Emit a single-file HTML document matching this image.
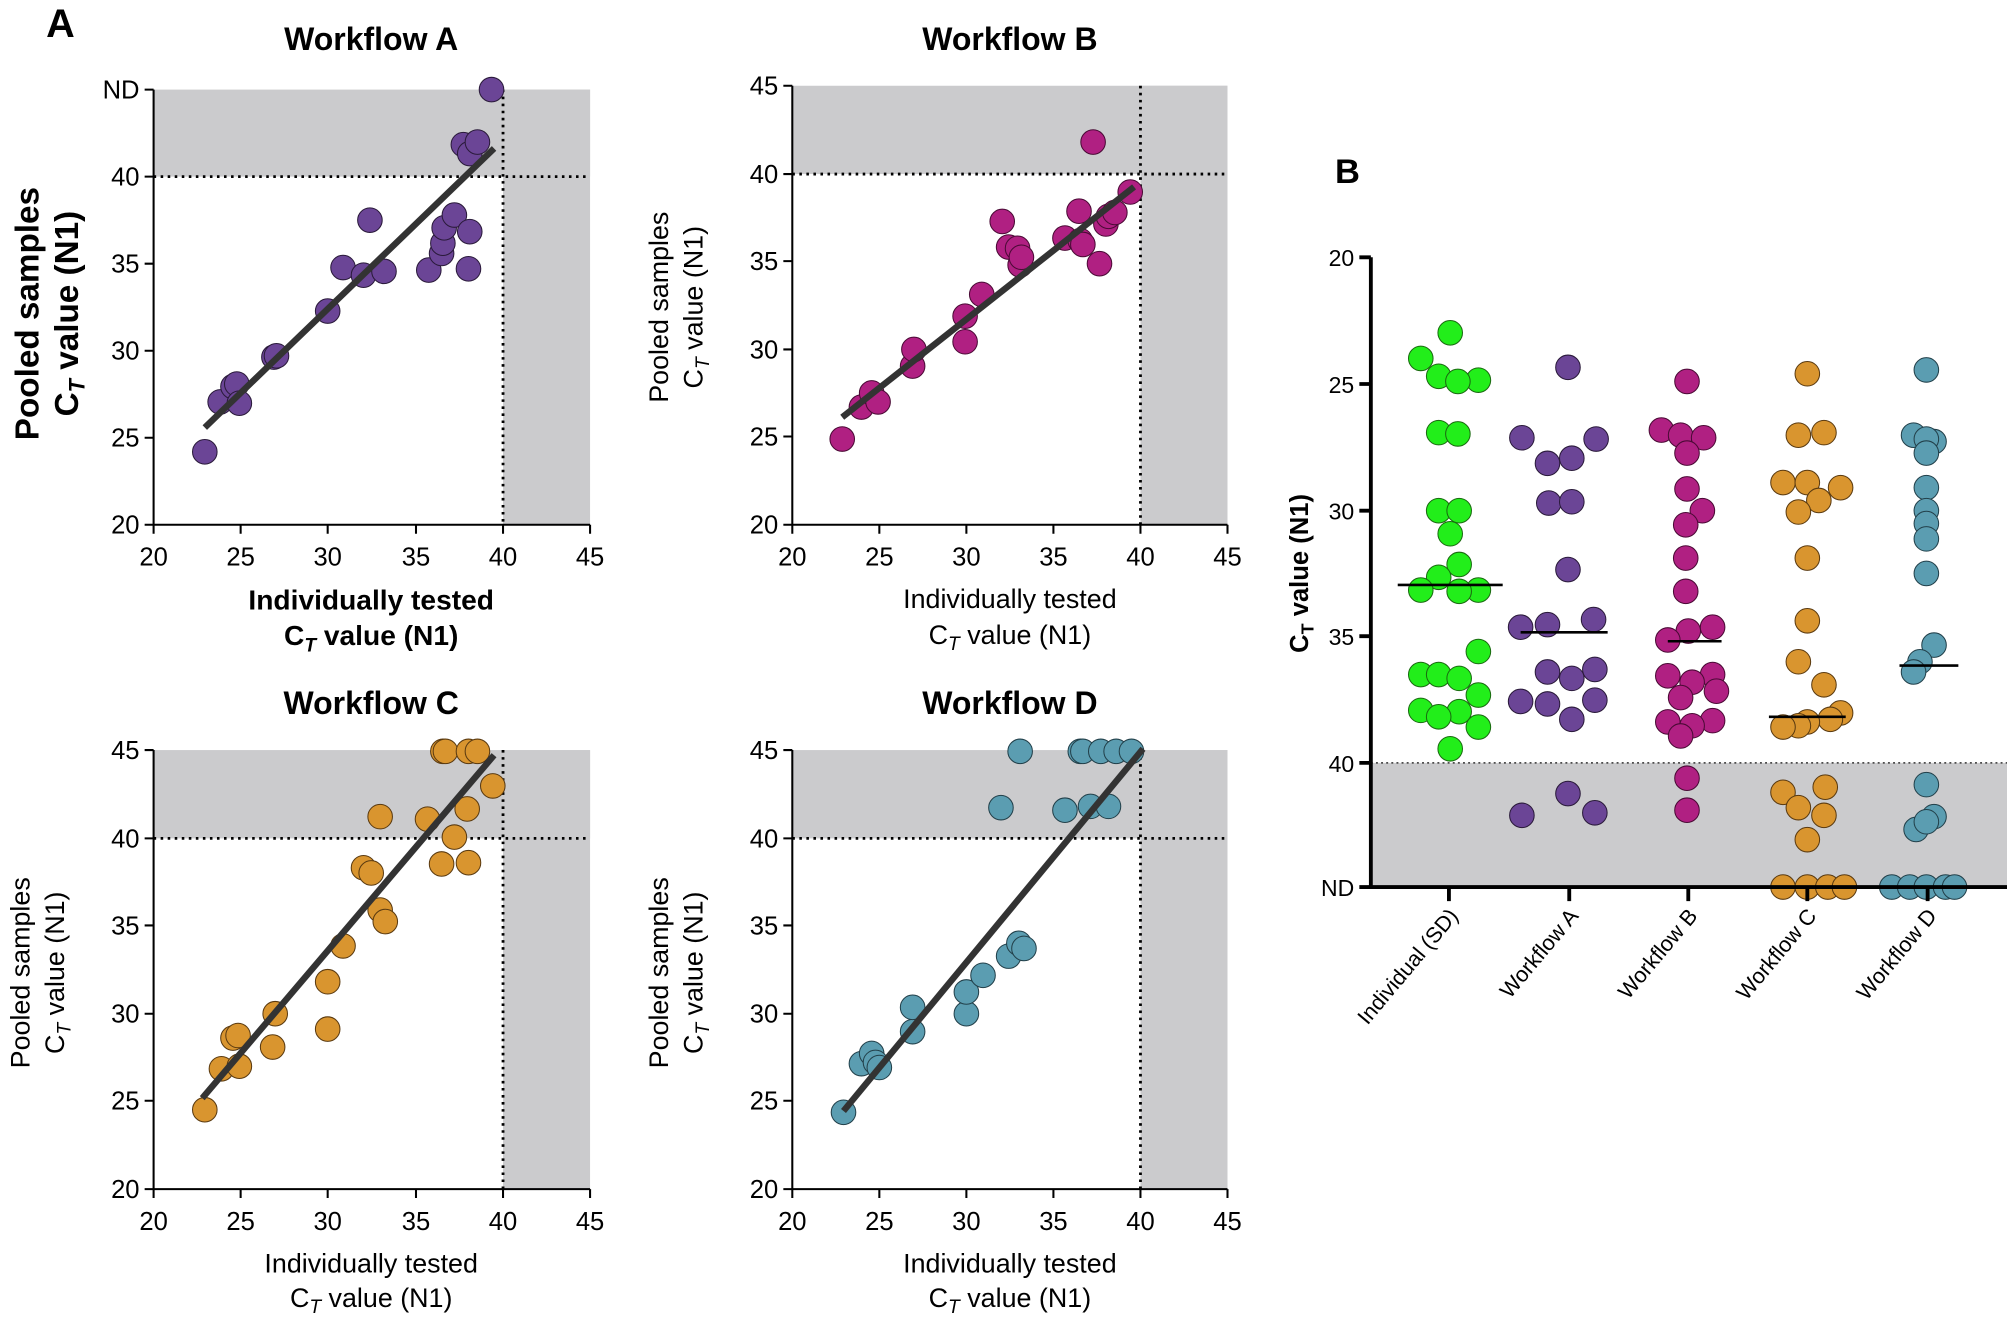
<!DOCTYPE html>
<html><head><meta charset="utf-8"><style>
html,body{margin:0;padding:0;background:#fff;}
svg{display:block;font-family:"Liberation Sans",Arial,sans-serif;}
circle{r:9.6px}
.pa{fill:#6b4596;stroke:#2a1a3a;stroke-width:0.8}
.pb{fill:#b02082;stroke:#4a0a35;stroke-width:0.8}
.pc{fill:#d9952f;stroke:#5a3a10;stroke-width:0.8}
.pd{fill:#5b9db1;stroke:#22404a;stroke-width:0.8}
.pg{fill:#22ee1a;stroke:#1a6a10;stroke-width:0.8}
.ax{stroke:#000;stroke-width:1.6;fill:none}
.dot{stroke:#000;stroke-width:2.2;stroke-dasharray:2 3.5;fill:none}
.tk{font-size:20px;fill:#000}
.lb{font-size:21px;fill:#000}
.ti{font-size:25px;font-weight:bold;fill:#000}
.reg{stroke:#333;stroke-width:5;stroke-linecap:butt}
</style></head><body>
<svg width="2007" height="1324" viewBox="0 0 1568 1034.4" xmlns="http://www.w3.org/2000/svg">
<rect width="1568" height="1034.4" fill="#fff"/>
<text x="36" y="29" font-size="31" font-weight="bold">A</text>
<text x="1043" y="143" font-size="27" font-weight="bold">B</text>

<!-- Panel A -->
<text x="290" y="39" class="ti" text-anchor="middle">Workflow A</text>
<rect x="120" y="70" width="341" height="68" fill="#cbcbcd"/>
<rect x="393" y="70" width="68" height="340" fill="#cbcbcd"/>
<line x1="120" y1="138" x2="461" y2="138" class="dot"/>
<line x1="393" y1="70" x2="393" y2="410" class="dot"/>
<path class="ax" d="M120,70V410H461 M113,70H120 M113,138H120 M113,206H120 M113,274H120 M113,342H120 M113,410H120 M120,410V417 M188,410V417 M256,410V417 M325,410V417 M393,410V417 M461,410V417"/>
<g class="tk" text-anchor="end"><text x="109" y="77">ND</text><text x="109" y="145">40</text><text x="109" y="213">35</text><text x="109" y="281">30</text><text x="109" y="349">25</text><text x="109" y="417">20</text></g>
<g class="tk" text-anchor="middle"><text x="120" y="442">20</text><text x="188" y="442">25</text><text x="256" y="442">30</text><text x="325" y="442">35</text><text x="393" y="442">40</text><text x="461" y="442">45</text></g>
<g class="pa">
<circle cx="160" cy="353" r="9.6"/><circle cx="172" cy="314" r="9.6"/><circle cx="182" cy="302" r="9.6"/><circle cx="185" cy="300" r="9.6"/><circle cx="187" cy="315" r="9.6"/><circle cx="214" cy="279" r="9.6"/><circle cx="216" cy="278" r="9.6"/><circle cx="256" cy="243" r="9.6"/><circle cx="268" cy="209" r="9.6"/><circle cx="284" cy="215" r="9.6"/><circle cx="289" cy="172" r="9.6"/><circle cx="300" cy="212" r="9.6"/><circle cx="335" cy="211" r="9.6"/><circle cx="345" cy="198" r="9.6"/><circle cx="346" cy="190" r="9.6"/><circle cx="347" cy="178" r="9.6"/><circle cx="355" cy="168" r="9.6"/><circle cx="367" cy="181" r="9.6"/><circle cx="366" cy="210" r="9.6"/><circle cx="362" cy="113" r="9.6"/><circle cx="367" cy="120" r="9.6"/><circle cx="373" cy="111" r="9.6"/><circle cx="384" cy="70" r="9.6"/>
</g>
<line x1="160" y1="334" x2="386" y2="116" class="reg"/>
<text transform="translate(30,245) rotate(-90)" text-anchor="middle" font-size="26" font-weight="bold">Pooled samples</text>
<text transform="translate(61,245) rotate(-90)" text-anchor="middle" font-size="26" font-weight="bold">C<tspan font-size="17" dy="5" font-style="italic">T</tspan><tspan dy="-5"> value (N1)</tspan></text>
<text x="290" y="476" text-anchor="middle" font-size="22" font-weight="bold">Individually tested</text>
<text x="290" y="504" text-anchor="middle" font-size="22" font-weight="bold">C<tspan font-size="15" dy="5" font-style="italic">T</tspan><tspan dy="-5"> value (N1)</tspan></text>

<!-- Panel B (workflow) -->
<text x="789" y="39" class="ti" text-anchor="middle">Workflow B</text>
<rect x="619" y="67" width="340" height="69" fill="#cbcbcd"/>
<rect x="891" y="67" width="68" height="343" fill="#cbcbcd"/>
<line x1="619" y1="136" x2="959" y2="136" class="dot"/>
<line x1="891" y1="67" x2="891" y2="410" class="dot"/>
<path class="ax" d="M619,67V410H959 M612,67H619 M612,136H619 M612,204H619 M612,273H619 M612,341H619 M612,410H619 M619,410V417 M687,410V417 M755,410V417 M823,410V417 M891,410V417 M959,410V417"/>
<g class="tk" text-anchor="end"><text x="608" y="74">45</text><text x="608" y="143">40</text><text x="608" y="211">35</text><text x="608" y="280">30</text><text x="608" y="348">25</text><text x="608" y="417">20</text></g>
<g class="tk" text-anchor="middle"><text x="619" y="442">20</text><text x="687" y="442">25</text><text x="755" y="442">30</text><text x="823" y="442">35</text><text x="891" y="442">40</text><text x="959" y="442">45</text></g>
<g class="pb">
<circle cx="658" cy="343" r="9.6"/><circle cx="673" cy="318" r="9.6"/><circle cx="681" cy="307" r="9.6"/><circle cx="686" cy="314" r="9.6"/><circle cx="713" cy="286" r="9.6"/><circle cx="714" cy="273" r="9.6"/><circle cx="754" cy="267" r="9.6"/><circle cx="754" cy="247" r="9.6"/><circle cx="767" cy="230" r="9.6"/><circle cx="783" cy="173" r="9.6"/><circle cx="788" cy="193" r="9.6"/><circle cx="795" cy="194" r="9.6"/><circle cx="797" cy="207" r="9.6"/><circle cx="798" cy="201" r="9.6"/><circle cx="832" cy="186" r="9.6"/><circle cx="843" cy="165" r="9.6"/><circle cx="844" cy="188" r="9.6"/><circle cx="846" cy="191" r="9.6"/><circle cx="859" cy="206" r="9.6"/><circle cx="864" cy="175" r="9.6"/><circle cx="866" cy="169" r="9.6"/><circle cx="871" cy="166" r="9.6"/><circle cx="854" cy="111" r="9.6"/><circle cx="883" cy="150" r="9.6"/>
</g>
<line x1="658" y1="326" x2="886" y2="146" class="reg"/>
<text transform="translate(522,240) rotate(-90)" text-anchor="middle" class="lb">Pooled samples</text>
<text transform="translate(549,240) rotate(-90)" text-anchor="middle" class="lb">C<tspan font-size="15" dy="5" font-style="italic">T</tspan><tspan dy="-5"> value (N1)</tspan></text>
<text x="789" y="475" text-anchor="middle" class="lb">Individually tested</text>
<text x="789" y="503" text-anchor="middle" class="lb">C<tspan font-size="15" dy="5" font-style="italic">T</tspan><tspan dy="-5"> value (N1)</tspan></text>

<!-- Panel C -->
<text x="290" y="558" class="ti" text-anchor="middle">Workflow C</text>
<rect x="120" y="586" width="341" height="69" fill="#cbcbcd"/>
<rect x="393" y="586" width="68" height="343" fill="#cbcbcd"/>
<line x1="120" y1="655" x2="461" y2="655" class="dot"/>
<line x1="393" y1="586" x2="393" y2="929" class="dot"/>
<path class="ax" d="M120,586V929H461 M113,586H120 M113,655H120 M113,723H120 M113,792H120 M113,860H120 M113,929H120 M120,929V936 M188,929V936 M256,929V936 M325,929V936 M393,929V936 M461,929V936"/>
<g class="tk" text-anchor="end"><text x="109" y="593">45</text><text x="109" y="662">40</text><text x="109" y="730">35</text><text x="109" y="799">30</text><text x="109" y="867">25</text><text x="109" y="936">20</text></g>
<g class="tk" text-anchor="middle"><text x="120" y="961">20</text><text x="188" y="961">25</text><text x="256" y="961">30</text><text x="325" y="961">35</text><text x="393" y="961">40</text><text x="461" y="961">45</text></g>
<g class="pc">
<circle cx="160" cy="867" r="9.6"/><circle cx="173" cy="835" r="9.6"/><circle cx="182" cy="811" r="9.6"/><circle cx="186" cy="809" r="9.6"/><circle cx="187" cy="833" r="9.6"/><circle cx="213" cy="818" r="9.6"/><circle cx="215" cy="792" r="9.6"/><circle cx="256" cy="804" r="9.6"/><circle cx="256" cy="767" r="9.6"/><circle cx="268" cy="739" r="9.6"/><circle cx="284" cy="678" r="9.6"/><circle cx="290" cy="682" r="9.6"/><circle cx="297" cy="638" r="9.6"/><circle cx="297" cy="711" r="9.6"/><circle cx="301" cy="720" r="9.6"/><circle cx="334" cy="640" r="9.6"/><circle cx="345" cy="675" r="9.6"/><circle cx="346" cy="587" r="9.6"/><circle cx="348" cy="587" r="9.6"/><circle cx="355" cy="654" r="9.6"/><circle cx="366" cy="587" r="9.6"/><circle cx="366" cy="674" r="9.6"/><circle cx="365" cy="632" r="9.6"/><circle cx="373" cy="587" r="9.6"/><circle cx="385" cy="614" r="9.6"/>
</g>
<line x1="158" y1="858" x2="386" y2="590" class="reg"/>
<text transform="translate(23,760) rotate(-90)" text-anchor="middle" class="lb">Pooled samples</text>
<text transform="translate(50,760) rotate(-90)" text-anchor="middle" class="lb">C<tspan font-size="15" dy="5" font-style="italic">T</tspan><tspan dy="-5"> value (N1)</tspan></text>
<text x="290" y="994" text-anchor="middle" class="lb">Individually tested</text>
<text x="290" y="1021" text-anchor="middle" class="lb">C<tspan font-size="15" dy="5" font-style="italic">T</tspan><tspan dy="-5"> value (N1)</tspan></text>

<!-- Panel D -->
<text x="789" y="558" class="ti" text-anchor="middle">Workflow D</text>
<rect x="619" y="586" width="340" height="69" fill="#cbcbcd"/>
<rect x="891" y="586" width="68" height="343" fill="#cbcbcd"/>
<line x1="619" y1="655" x2="959" y2="655" class="dot"/>
<line x1="891" y1="586" x2="891" y2="929" class="dot"/>
<path class="ax" d="M619,586V929H959 M612,586H619 M612,655H619 M612,723H619 M612,792H619 M612,860H619 M612,929H619 M619,929V936 M687,929V936 M755,929V936 M823,929V936 M891,929V936 M959,929V936"/>
<g class="tk" text-anchor="end"><text x="608" y="593">45</text><text x="608" y="662">40</text><text x="608" y="730">35</text><text x="608" y="799">30</text><text x="608" y="867">25</text><text x="608" y="936">20</text></g>
<g class="tk" text-anchor="middle"><text x="619" y="961">20</text><text x="687" y="961">25</text><text x="755" y="961">30</text><text x="823" y="961">35</text><text x="891" y="961">40</text><text x="959" y="961">45</text></g>
<g class="pd">
<circle cx="659" cy="869" r="9.6"/><circle cx="673" cy="831" r="9.6"/><circle cx="681" cy="823" r="9.6"/><circle cx="684" cy="830" r="9.6"/><circle cx="687" cy="834" r="9.6"/><circle cx="713" cy="806" r="9.6"/><circle cx="713" cy="787" r="9.6"/><circle cx="755" cy="792" r="9.6"/><circle cx="755" cy="775" r="9.6"/><circle cx="768" cy="762" r="9.6"/><circle cx="782" cy="631" r="9.6"/><circle cx="788" cy="747" r="9.6"/><circle cx="796" cy="737" r="9.6"/><circle cx="800" cy="741" r="9.6"/><circle cx="797" cy="587" r="9.6"/><circle cx="832" cy="633" r="9.6"/><circle cx="844" cy="587" r="9.6"/><circle cx="846" cy="587" r="9.6"/><circle cx="852" cy="630" r="9.6"/><circle cx="860" cy="587" r="9.6"/><circle cx="866" cy="630" r="9.6"/><circle cx="872" cy="587" r="9.6"/><circle cx="884" cy="587" r="9.6"/>
</g>
<line x1="659" y1="868" x2="893" y2="585" class="reg"/>
<text transform="translate(522,760) rotate(-90)" text-anchor="middle" class="lb">Pooled samples</text>
<text transform="translate(549,760) rotate(-90)" text-anchor="middle" class="lb">C<tspan font-size="15" dy="5" font-style="italic">T</tspan><tspan dy="-5"> value (N1)</tspan></text>
<text x="789" y="994" text-anchor="middle" class="lb">Individually tested</text>
<text x="789" y="1021" text-anchor="middle" class="lb">C<tspan font-size="15" dy="5" font-style="italic">T</tspan><tspan dy="-5"> value (N1)</tspan></text>

<!-- Panel B right -->
<rect x="1071" y="596" width="497" height="97" fill="#cbcbcd"/>
<line x1="1071" y1="596" x2="1568" y2="596" stroke="#333" stroke-width="1.2" stroke-dasharray="1.5 2.5"/>
<g class="pg">
<circle cx="1133" cy="260" r="9.6"/><circle cx="1110" cy="280" r="9.6"/><circle cx="1124" cy="294" r="9.6"/><circle cx="1155" cy="297" r="9.6"/><circle cx="1139" cy="298" r="9.6"/><circle cx="1124" cy="338" r="9.6"/><circle cx="1139" cy="339" r="9.6"/><circle cx="1124" cy="399" r="9.6"/><circle cx="1140" cy="399" r="9.6"/><circle cx="1133" cy="417" r="9.6"/><circle cx="1140" cy="441" r="9.6"/><circle cx="1124" cy="451" r="9.6"/><circle cx="1110" cy="461" r="9.6"/><circle cx="1155" cy="461" r="9.6"/><circle cx="1140" cy="462" r="9.6"/><circle cx="1155" cy="509" r="9.6"/><circle cx="1110" cy="527" r="9.6"/><circle cx="1124" cy="527" r="9.6"/><circle cx="1140" cy="530" r="9.6"/><circle cx="1155" cy="543" r="9.6"/><circle cx="1110" cy="555" r="9.6"/><circle cx="1140" cy="556" r="9.6"/><circle cx="1124" cy="560" r="9.6"/><circle cx="1155" cy="568" r="9.6"/><circle cx="1133" cy="585" r="9.6"/>
</g>
<g class="pa">
<circle cx="1225" cy="287" r="9.6"/><circle cx="1189" cy="342" r="9.6"/><circle cx="1247" cy="343" r="9.6"/><circle cx="1209" cy="362" r="9.6"/><circle cx="1228" cy="358" r="9.6"/><circle cx="1210" cy="393" r="9.6"/><circle cx="1228" cy="392" r="9.6"/><circle cx="1225" cy="445" r="9.6"/><circle cx="1245" cy="484" r="9.6"/><circle cx="1188" cy="490" r="9.6"/><circle cx="1209" cy="488" r="9.6"/><circle cx="1246" cy="523" r="9.6"/><circle cx="1209" cy="525" r="9.6"/><circle cx="1228" cy="530" r="9.6"/><circle cx="1188" cy="548" r="9.6"/><circle cx="1209" cy="550" r="9.6"/><circle cx="1246" cy="547" r="9.6"/><circle cx="1228" cy="562" r="9.6"/><circle cx="1225" cy="620" r="9.6"/><circle cx="1189" cy="637" r="9.6"/><circle cx="1246" cy="635" r="9.6"/>
</g>
<g class="pb">
<circle cx="1318" cy="298" r="9.6"/><circle cx="1298" cy="336" r="9.6"/><circle cx="1313" cy="340" r="9.6"/><circle cx="1331" cy="342" r="9.6"/><circle cx="1318" cy="354" r="9.6"/><circle cx="1318" cy="382" r="9.6"/><circle cx="1330" cy="399" r="9.6"/><circle cx="1317" cy="410" r="9.6"/><circle cx="1317" cy="436" r="9.6"/><circle cx="1317" cy="462" r="9.6"/><circle cx="1319" cy="493" r="9.6"/><circle cx="1338" cy="490" r="9.6"/><circle cx="1303" cy="500" r="9.6"/><circle cx="1303" cy="528" r="9.6"/><circle cx="1338" cy="527" r="9.6"/><circle cx="1322" cy="533" r="9.6"/><circle cx="1341" cy="540" r="9.6"/><circle cx="1313" cy="545" r="9.6"/><circle cx="1303" cy="564" r="9.6"/><circle cx="1338" cy="563" r="9.6"/><circle cx="1322" cy="567" r="9.6"/><circle cx="1313" cy="575" r="9.6"/><circle cx="1318" cy="608" r="9.6"/><circle cx="1318" cy="633" r="9.6"/>
</g>
<g class="pc">
<circle cx="1412" cy="292" r="9.6"/><circle cx="1405" cy="340" r="9.6"/><circle cx="1425" cy="338" r="9.6"/><circle cx="1393" cy="377" r="9.6"/><circle cx="1412" cy="377" r="9.6"/><circle cx="1438" cy="381" r="9.6"/><circle cx="1421" cy="391" r="9.6"/><circle cx="1405" cy="400" r="9.6"/><circle cx="1412" cy="436" r="9.6"/><circle cx="1412" cy="485" r="9.6"/><circle cx="1405" cy="517" r="9.6"/><circle cx="1425" cy="535" r="9.6"/><circle cx="1438" cy="557" r="9.6"/><circle cx="1430" cy="562" r="9.6"/><circle cx="1412" cy="564" r="9.6"/><circle cx="1405" cy="567" r="9.6"/><circle cx="1393" cy="568" r="9.6"/><circle cx="1393" cy="619" r="9.6"/><circle cx="1426" cy="615" r="9.6"/><circle cx="1405" cy="631" r="9.6"/><circle cx="1425" cy="637" r="9.6"/><circle cx="1412" cy="656" r="9.6"/><circle cx="1393" cy="693" r="9.6"/><circle cx="1412" cy="693" r="9.6"/><circle cx="1428" cy="693" r="9.6"/><circle cx="1441" cy="693" r="9.6"/>
</g>
<g class="pd">
<circle cx="1505" cy="289" r="9.6"/><circle cx="1495" cy="340" r="9.6"/><circle cx="1511" cy="345" r="9.6"/><circle cx="1505" cy="343" r="9.6"/><circle cx="1505" cy="354" r="9.6"/><circle cx="1505" cy="381" r="9.6"/><circle cx="1505" cy="399" r="9.6"/><circle cx="1505" cy="409" r="9.6"/><circle cx="1505" cy="421" r="9.6"/><circle cx="1505" cy="448" r="9.6"/><circle cx="1511" cy="504" r="9.6"/><circle cx="1500" cy="517" r="9.6"/><circle cx="1495" cy="525" r="9.6"/><circle cx="1505" cy="613" r="9.6"/><circle cx="1511" cy="638" r="9.6"/><circle cx="1497" cy="648" r="9.6"/><circle cx="1505" cy="642" r="9.6"/><circle cx="1478" cy="693" r="9.6"/><circle cx="1492" cy="693" r="9.6"/><circle cx="1505" cy="693" r="9.6"/><circle cx="1520" cy="693" r="9.6"/><circle cx="1527" cy="693" r="9.6"/>
</g>
<g stroke="#000" stroke-width="2">
<line x1="1092" y1="457" x2="1174" y2="457"/><line x1="1188" y1="494" x2="1256" y2="494"/><line x1="1303" y1="501" x2="1345" y2="501"/><line x1="1382" y1="560" x2="1442" y2="560"/><line x1="1484" y1="520" x2="1530" y2="520"/>
</g>
<path d="M1071,201V693H1568 M1062,201H1071 M1062,300H1071 M1062,399H1071 M1062,497H1071 M1062,596H1071 M1062,693H1071 M1132,693V704 M1226,693V704 M1319,693V704 M1412,693V704 M1506,693V704" stroke="#000" stroke-width="3" fill="none"/>
<g font-size="18" text-anchor="end"><text x="1058" y="208">20</text><text x="1058" y="307">25</text><text x="1058" y="406">30</text><text x="1058" y="504">35</text><text x="1058" y="603">40</text><text x="1058" y="700">ND</text></g>
<text transform="translate(1022,448) rotate(-90)" text-anchor="middle" font-size="20" font-weight="bold">C<tspan font-size="14" dy="4">T</tspan><tspan dy="-4"> value (N1)</tspan></text>
<g font-size="17" text-anchor="end">
<text transform="translate(1140,716) rotate(-50)">Individual (SD)</text>
<text transform="translate(1234,716) rotate(-50)">Workflow A</text>
<text transform="translate(1327,716) rotate(-50)">Workflow B</text>
<text transform="translate(1420,716) rotate(-50)">Workflow C</text>
<text transform="translate(1514,716) rotate(-50)">Workflow D</text>
</g>
</svg>
</body></html>
